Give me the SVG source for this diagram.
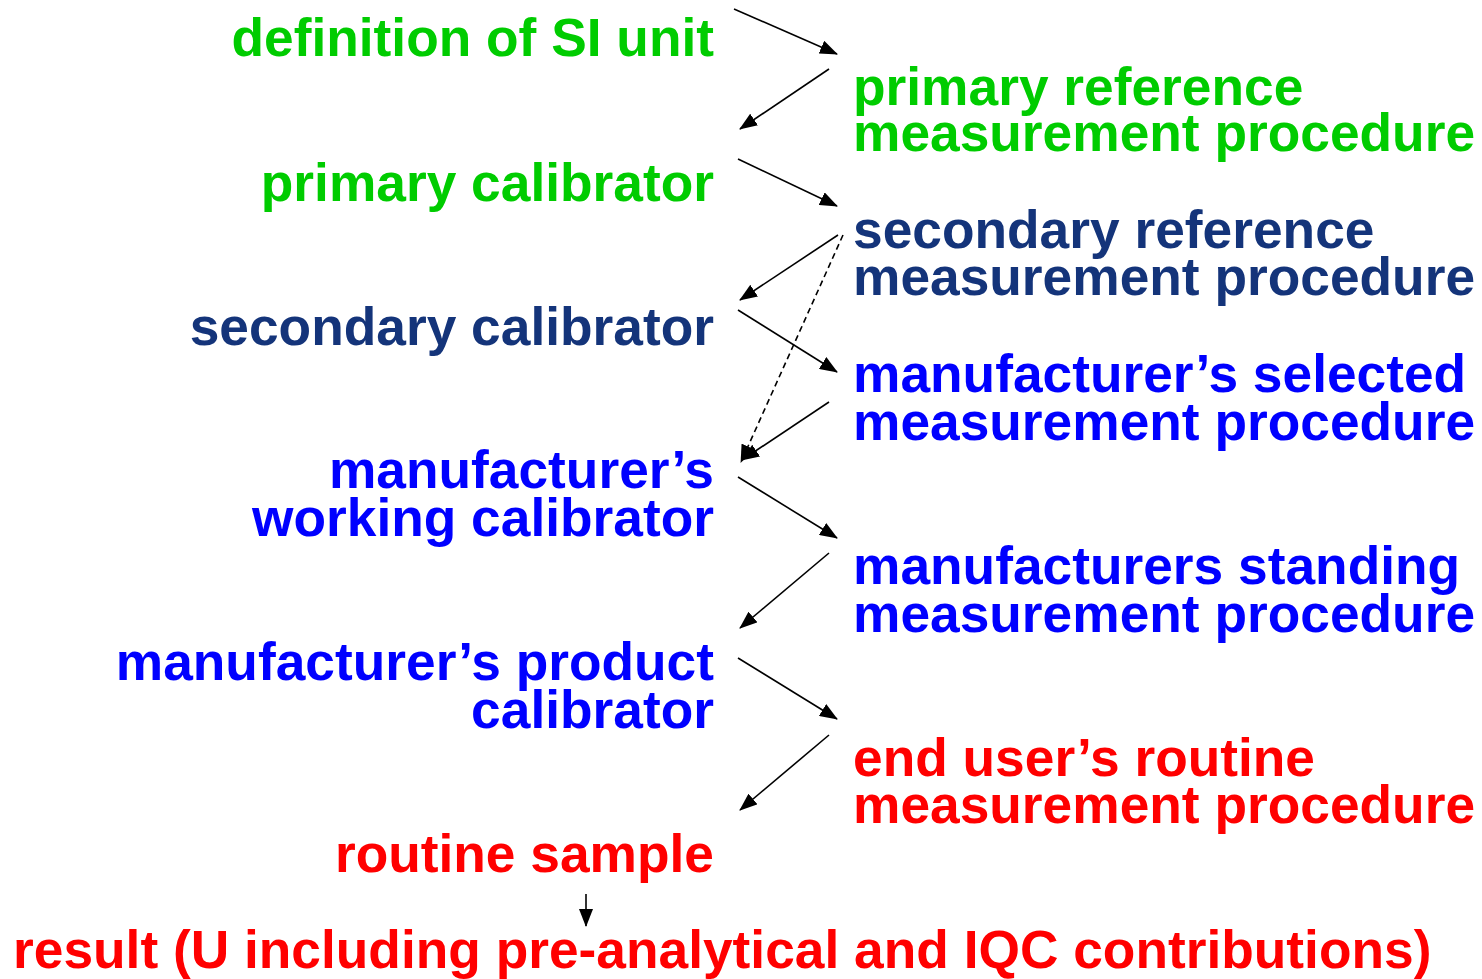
<svg xmlns="http://www.w3.org/2000/svg" width="1482" height="979" viewBox="0 0 1482 979">
<style>
text{font-family:"Liberation Sans",Arial,sans-serif;font-weight:bold;font-size:53.3px}
.l{text-anchor:end}
.g{fill:#00CC00}.d{fill:#14347A}.b{fill:#0000FF}.r{fill:#FF0000}
.c line{stroke:#000;stroke-width:1.6;fill:none}
.dash{stroke-dasharray:6,4}
</style>
<defs>
<marker id="ah" markerUnits="userSpaceOnUse" markerWidth="18" markerHeight="14" refX="17" refY="7" orient="auto">
<path d="M0,0 L18,7 L0,14 Z" fill="#000"/>
</marker>
</defs>
<rect width="1482" height="979" fill="#fff"/>
<g id="n-si"><text class="l g" x="714" y="56">definition of SI unit</text></g>
<g id="n-prm"><text class="g" x="853" y="105">primary reference</text><text class="g" x="853" y="151">measurement procedure</text></g>
<g id="n-pc"><text class="l g" x="714" y="201">primary calibrator</text></g>
<g id="n-srm"><text class="d" x="853" y="248">secondary reference</text><text class="d" x="853" y="295">measurement procedure</text></g>
<g id="n-sc"><text class="l d" x="714" y="345">secondary calibrator</text></g>
<g id="n-msm"><text class="b" x="853" y="392">manufacturer’s selected</text><text class="b" x="853" y="440">measurement procedure</text></g>
<g id="n-mwc"><text class="l b" x="714" y="488">manufacturer’s</text><text class="l b" x="714" y="536">working calibrator</text></g>
<g id="n-mstm"><text class="b" x="853" y="584">manufacturers standing</text><text class="b" x="853" y="632">measurement procedure</text></g>
<g id="n-mpc"><text class="l b" x="714" y="680">manufacturer’s product</text><text class="l b" x="714" y="728">calibrator</text></g>
<g id="n-eu"><text class="r" x="853" y="776">end user’s routine</text><text class="r" x="853" y="823">measurement procedure</text></g>
<g id="n-rs"><text class="l r" x="714" y="872">routine sample</text></g>
<g id="n-res"><text class="r" x="13" y="968">result (U including pre-analytical and IQC contributions)</text></g>
<g id="connectors" class="c">
<line x1="734" y1="9" x2="837" y2="54" marker-end="url(#ah)"/>
<line x1="829" y1="69" x2="740" y2="129" marker-end="url(#ah)"/>
<line x1="738" y1="159" x2="837" y2="206" marker-end="url(#ah)"/>
<line x1="838" y1="235" x2="740" y2="300" marker-end="url(#ah)"/>
<line x1="738" y1="310" x2="837" y2="372" marker-end="url(#ah)"/>
<line class="dash" x1="843" y1="235" x2="741" y2="462" marker-end="url(#ah)"/>
<line x1="829" y1="402" x2="742" y2="460" marker-end="url(#ah)"/>
<line x1="738" y1="477" x2="837" y2="538" marker-end="url(#ah)"/>
<line x1="829" y1="553" x2="740" y2="628" marker-end="url(#ah)"/>
<line x1="738" y1="658" x2="837" y2="719" marker-end="url(#ah)"/>
<line x1="829" y1="735" x2="740" y2="810" marker-end="url(#ah)"/>
<line x1="586" y1="894" x2="586" y2="926" marker-end="url(#ah)"/>
</g>
</svg>
